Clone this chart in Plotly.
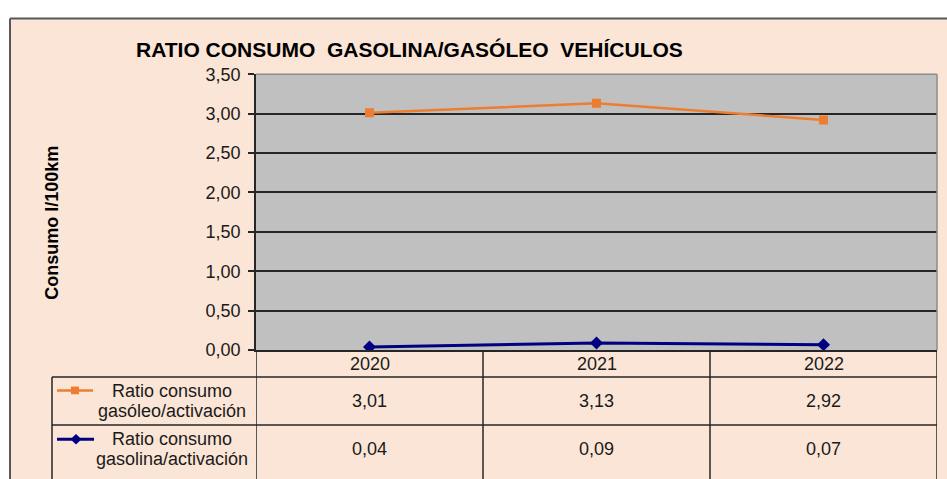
import plotly.graph_objects as go

# ---- data ----
years = ["2020", "2021", "2022"]
gasoleo = [3.01, 3.13, 2.92]
gasolina = [0.04, 0.09, 0.07]
series_names = [["Ratio consumo", "gasóleo/activación"], ["Ratio consumo", "gasolina/activación"]]
title_text = "RATIO CONSUMO\u00a0 GASOLINA/GASÓLEO\u00a0 VEHÍCULOS"
y_title = "Consumo l/100km"

W, H = 947, 479
def px(x):
    return x / W
def py(y):
    return 1 - y / H

FONT = "Liberation Sans, Arial, sans-serif"
PEACH = "#FBE5D6"
LINE = "#262626"
TXT = "#1a1a1a"
ORANGE = "#ED7D31"
NAVY = "#000080"

xs = list(range(len(years)))

fig = go.Figure()
fig.add_trace(go.Scatter(x=xs, y=gasoleo, mode="lines+markers",
                         line=dict(color=ORANGE, width=2.5),
                         marker=dict(symbol="square", size=9, color=ORANGE),
                         showlegend=False, hoverinfo="skip"))
fig.add_trace(go.Scatter(x=xs, y=gasolina, mode="lines+markers",
                         line=dict(color=NAVY, width=3),
                         marker=dict(symbol="diamond", size=10, color=NAVY),
                         showlegend=False, hoverinfo="skip"))

shapes = []
shapes.append(dict(type="rect", xref="paper", yref="paper", layer="below",
                   x0=-0.01, x1=px(10), y0=-0.1, y1=1.1, fillcolor="white", line=dict(width=0)))
shapes.append(dict(type="rect", xref="paper", yref="paper", layer="below",
                   x0=-0.01, x1=1.1, y0=py(9), y1=1.1, fillcolor="white", line=dict(width=0)))
shapes.append(dict(type="line", xref="paper", yref="paper", x0=px(10), x1=1.05, y0=py(9), y1=py(9),
                   line=dict(color="#595959", width=2)))
shapes.append(dict(type="line", xref="paper", yref="paper", x0=px(10), x1=px(10), y0=py(9), y1=-0.05,
                   line=dict(color="#595959", width=2)))
shapes.append(dict(type="line", xref="x domain", yref="y domain", x0=0, x1=1, y0=1, y1=1,
                   line=dict(color="#8c8c8c", width=1.5)))
shapes.append(dict(type="line", xref="x domain", yref="y domain", x0=1, x1=1, y0=0, y1=1,
                   line=dict(color="#8c8c8c", width=1.5)))
for b in [-0.5, 0.5, 1.5, 2.5]:
    shapes.append(dict(type="line", xref="x", yref="paper", x0=b, x1=b, y0=py(355), y1=py(500),
                       line=dict(color=LINE, width=1.5)))
for yy in [383, 433]:
    shapes.append(dict(type="line", xref="paper", yref="paper", x0=px(52), x1=px(937),
                       y0=py(yy), y1=py(yy), line=dict(color=LINE, width=1.5)))
shapes.append(dict(type="line", xref="paper", yref="paper", x0=px(52), x1=px(52),
                   y0=py(383), y1=py(500), line=dict(color=LINE, width=1.5)))
shapes.append(dict(type="line", xref="paper", yref="paper", x0=px(57), x1=px(93),
                   y0=py(397), y1=py(397), line=dict(color=ORANGE, width=2.5)))
shapes.append(dict(type="rect", xref="paper", yref="paper", x0=px(71), x1=px(79),
                   y0=py(401), y1=py(393), fillcolor=ORANGE, line=dict(width=0)))
shapes.append(dict(type="line", xref="paper", yref="paper", x0=px(57), x1=px(94),
                   y0=py(448), y1=py(448), line=dict(color=NAVY, width=3)))
cx, cy, r = 76, 448, 5.5
shapes.append(dict(type="path", xref="paper", yref="paper",
                   path=f"M {px(cx-r)} {py(cy)} L {px(cx)} {py(cy-r)} L {px(cx+r)} {py(cy)} L {px(cx)} {py(cy+r)} Z",
                   fillcolor=NAVY, line=dict(width=0)))

ann = []
ann.append(dict(text=f"<b>{title_text}</b>", xref="paper", yref="paper", x=px(409), y=py(41),
                showarrow=False, font=dict(family=FONT, size=21, color="#000000"),
                xanchor="center", yanchor="middle"))
ann.append(dict(text=f"<b>{y_title}</b>", xref="paper", yref="paper", x=px(52), y=py(222),
                textangle=-90, showarrow=False, font=dict(family=FONT, size=18, color="#000000"),
                xanchor="center", yanchor="middle"))
for i, yr in enumerate(years):
    ann.append(dict(text=yr, xref="x", yref="paper", x=i, y=py(369), showarrow=False,
                    font=dict(family=FONT, size=18, color=TXT), xanchor="center", yanchor="middle"))
    ann.append(dict(text=f"{gasoleo[i]:.2f}".replace(".", ","), xref="x", yref="paper", x=i, y=py(408),
                    showarrow=False, font=dict(family=FONT, size=18, color=TXT),
                    xanchor="center", yanchor="middle"))
    ann.append(dict(text=f"{gasolina[i]:.2f}".replace(".", ","), xref="x", yref="paper", x=i, y=py(458),
                    showarrow=False, font=dict(family=FONT, size=18, color=TXT),
                    xanchor="center", yanchor="middle"))
for lines, ys in zip(series_names, [(398, 418), (448, 469)]):
    for t, yc in zip(lines, ys):
        ann.append(dict(text=t, xref="paper", yref="paper", x=px(172), y=py(yc), showarrow=False,
                        font=dict(family=FONT, size=18, color=TXT), xanchor="center", yanchor="middle"))

fig.update_layout(
    width=W, height=H, margin=dict(l=0, r=0, t=0, b=0),
    paper_bgcolor=PEACH, plot_bgcolor="#C0C0C0",
    separators=",.",
    shapes=shapes, annotations=ann,
    xaxis=dict(domain=[px(256), px(937)], range=[-0.5, 2.5], showgrid=False, zeroline=False,
               showticklabels=False, showline=True, linecolor=LINE, linewidth=1.5, ticks=""),
    yaxis=dict(domain=[py(355), py(67)], range=[0, 3.5], dtick=0.5, tickformat=".2f",
               showgrid=True, gridcolor=LINE, gridwidth=2, zeroline=False,
               showline=True, linecolor=LINE, linewidth=1.5,
               ticks="outside", ticklen=6, tickcolor=LINE, tickwidth=1.5, ticklabelstandoff=4,
               tickfont=dict(family=FONT, size=18, color=TXT)),
)

fig.write_html("out.html", config={"displayModeBar": False},
               post_script="document.body.style.margin='0';document.body.style.overflow='hidden';")
